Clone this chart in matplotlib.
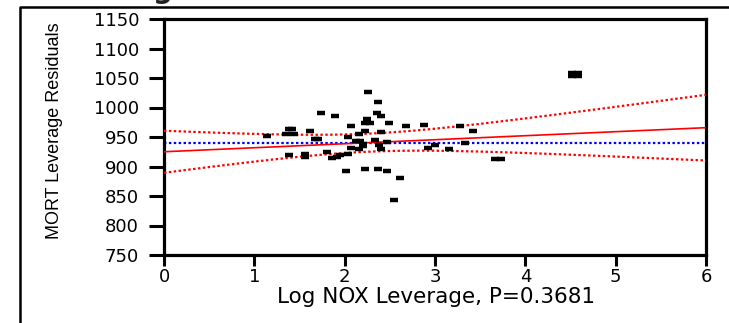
import numpy as np
import matplotlib.pyplot as plt
from matplotlib.lines import Line2D

# Leverage residuals for MORT against Log NOX leverage
nox_leverage = [1.14, 1.38, 1.42, 1.35, 1.44, 1.62, 1.74, 1.89, 1.38, 1.56,
                1.56, 1.67, 1.71, 1.80, 1.86, 1.92, 1.95, 2.02, 2.04, 2.04,
                2.07, 2.07, 2.13, 2.17, 2.16, 2.16, 2.20, 2.20, 2.23, 2.28,
                2.23, 2.25, 2.26, 2.37, 2.36, 2.40, 2.34, 2.38, 2.40, 2.40,
                2.47, 2.49, 2.23, 2.37, 2.47, 2.61, 2.55, 2.68, 2.88, 2.92,
                3.00, 3.16, 3.28, 3.33, 3.42, 3.66, 3.73, 4.52, 4.58, 4.52,
                4.58]
mort_resid = [952, 963, 963, 955, 955, 960, 991, 986, 919, 921,
              916, 947, 947, 924, 914, 916, 919, 893, 921, 950,
              968, 931, 944, 944, 955, 929, 934, 938, 973, 973,
              960, 981, 1027, 1009, 991, 986, 945, 936, 958, 929,
              942, 973, 896, 896, 892, 880, 843, 968, 970, 931,
              937, 929, 968, 939, 960, 913, 913, 1058, 1058, 1053,
              1053]

# fitted line, mean line and confidence band
fit_intercept = 925.0
fit_slope = 6.8
resid_mean = 940.3
x_bar = (resid_mean - fit_intercept) / fit_slope
band_min = 15.3
band_k = 204.0

xticks = [0, 1, 2, 3, 4, 5, 6]
yticks = [750, 800, 850, 900, 950, 1000, 1050, 1100, 1150]

W, H = 729, 323
fig = plt.figure(figsize=(W / 100, H / 100), dpi=100)
ax = fig.add_axes([164 / W, 1 - 255 / H, (706 - 164) / W, (255 - 19) / H])

xs = np.linspace(0, 6, 200)
fit = fit_intercept + fit_slope * xs
half = np.sqrt(band_min ** 2 + band_k * (xs - x_bar) ** 2)

ax.plot(xs, fit, color='#ff0000', lw=1.2, zorder=3)
ax.plot(xs, fit + half, color='#ff0000', lw=1.6, ls=(0, (1.1, 1.1)), zorder=3)
ax.plot(xs, fit - half, color='#ff0000', lw=1.6, ls=(0, (1.1, 1.1)), zorder=3)
ax.axhline(resid_mean, color='#0000ff', lw=1.6, ls=(0, (1.1, 1.1)), zorder=2)

ax.plot(nox_leverage, mort_resid, '_', color='black', ms=6, mew=3.2, zorder=4)

ax.set_xlim(0, 6)
ax.set_ylim(750, 1150)
ax.set_xticks(xticks)
ax.set_yticks(yticks)
ax.set_xticklabels([str(t) for t in xticks], family='DejaVu Sans', fontsize=13)
ax.set_yticklabels([str(t) for t in yticks], family='DejaVu Sans', fontsize=13)
ax.tick_params(axis='y', length=11, width=2.2, pad=7)
ax.tick_params(axis='x', length=8, width=2.2, pad=1.5)
for sp in ax.spines.values():
    sp.set_linewidth(2.3)

fig.text(55 / W, 1 - 131 / H, 'MORT Leverage Residuals', rotation=90,
         ha='center', va='center', family='Liberation Sans', fontsize=13)
fig.text(436 / W, 1 - 297 / H, 'Log NOX Leverage, P=0.3681',
         ha='center', va='center', family='DejaVu Sans', fontsize=15.5)

# report title, clipped at the top edge
fig.text(47 / W, 1 + 2 / H, 'Leverage Plot', ha='left', va='baseline',
         fontsize=20, fontweight='bold', color='#222222')

# outer frame of the report
fig.add_artist(Line2D([20 / W, 20 / W, 1], [0, 1 - 7 / H, 1 - 7 / H],
                      transform=fig.transFigure, color='black', lw=1.8))

fig.savefig('out.png', dpi=100)
